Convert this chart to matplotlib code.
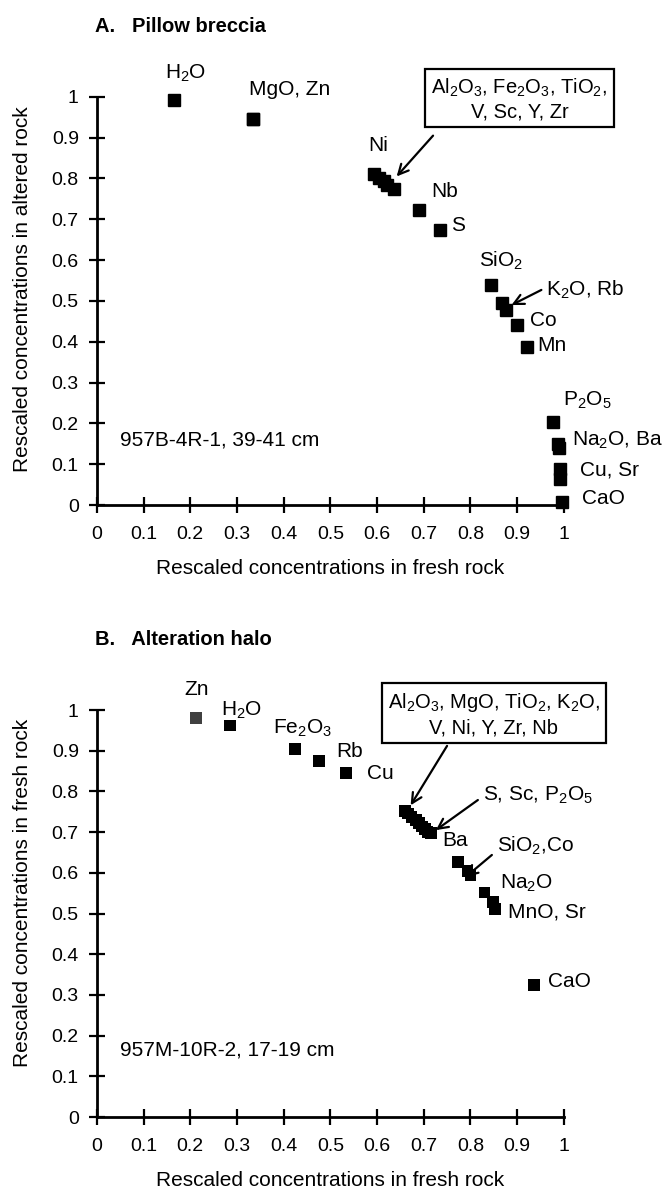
import numpy as np
import matplotlib.pyplot as plt

plt.rcParams['font.family'] = ['Liberation Sans', 'DejaVu Sans']
plt.rcParams['mathtext.default'] = 'regular'

# A. pillow breccia: fresh vs altered (rescaled)
a_names = ['H2O', 'MgO', 'Zn', 'Ni', 'Al2O3', 'Fe2O3', 'TiO2', 'V',
           'Nb', 'S', 'SiO2', 'K2O', 'Rb', 'Co', 'Mn',
           'P2O5', 'Na2O', 'Ba', 'Cu', 'Sr', 'CaO']
a_fresh = [0.165, 0.334, 0.334, 0.593, 0.605, 0.614, 0.622, 0.636,
           0.69, 0.734, 0.844, 0.867, 0.876, 0.899, 0.921,
           0.977, 0.987, 0.990, 0.991, 0.991, 0.996]
a_alter = [0.993, 0.946, 0.946, 0.811, 0.801, 0.793, 0.785, 0.775,
           0.722, 0.675, 0.539, 0.495, 0.478, 0.441, 0.387,
           0.203, 0.150, 0.140, 0.088, 0.064, 0.007]

# B. alteration halo
b_names = ['Zn', 'H2O', 'Fe2O3', 'Rb', 'Cu',
           'Al2O3', 'MgO', 'TiO2', 'K2O', 'V', 'Ni', 'S', 'Sc', 'P2O5',
           'Ba', 'SiO2', 'Co', 'Na2O', 'MnO', 'Sr', 'CaO']
b_fresh = [0.213, 0.285, 0.424, 0.475, 0.533,
           0.660, 0.666, 0.674, 0.683, 0.690, 0.697, 0.703, 0.708, 0.716,
           0.774, 0.794, 0.800, 0.830, 0.848, 0.852, 0.936]
b_alter = [0.980, 0.962, 0.904, 0.875, 0.845,
           0.752, 0.746, 0.738, 0.730, 0.722, 0.714, 0.707, 0.701, 0.697,
           0.627, 0.604, 0.594, 0.552, 0.528, 0.512, 0.325]

ticks = np.round(np.arange(0, 1.01, 0.1), 1)
tick_labels = [f'{t:g}' for t in ticks]

fig = plt.figure(figsize=(6.68, 11.9), dpi=100)
axA = fig.add_axes([0.145, 0.5756, 0.699, 0.343])
axB = fig.add_axes([0.145, 0.0613, 0.699, 0.342])


def style(ax, ylabel, ymid):
    ax.set_xlim(0, 1)
    ax.set_ylim(0, 1)
    for s in ('top', 'right'):
        ax.spines[s].set_visible(False)
    for s in ('left', 'bottom'):
        ax.spines[s].set_linewidth(2)
    ax.set_xticks(ticks)
    ax.set_xticklabels(tick_labels)
    ax.set_yticks(ticks)
    ax.set_yticklabels(tick_labels)
    ax.tick_params(direction='inout', length=12, width=1.6, labelsize=14,
                   pad=7)
    ax.tick_params(axis='x', pad=9)
    ax.set_xlabel('Rescaled concentrations in fresh rock', fontsize=15,
                  va='center')
    ax.xaxis.set_label_coords(0.5, -0.155)
    ax.set_ylabel(ylabel, fontsize=15, va='center')
    ax.yaxis.set_label_coords(-0.16, ymid)


style(axA, 'Rescaled concentrations in altered rock', 0.53)
style(axB, 'Rescaled concentrations in fresh rock', 0.55)

axA.plot(a_fresh, a_alter, 's', color='black', ms=8.5, clip_on=False,
         zorder=5)
b_col = ['#404040' if n == 'Zn' else 'black' for n in b_names]
axB.scatter(b_fresh, b_alter, marker='s', c=b_col, s=72, linewidths=0,
            clip_on=False, zorder=5)

lab = dict(fontsize=15, clip_on=False)
blab = dict(fontsize=14.5, clip_on=False)
box = dict(boxstyle='square,pad=0.3', fc='white', ec='black', lw=1.6)
arr = dict(arrowstyle='->', lw=1.6, color='black', mutation_scale=18,
           shrinkA=0, shrinkB=0)

# panel A labels
fig.text(0.142, 0.978, 'A.   Pillow breccia', fontsize=14.5, weight='bold',
         va='center')
axA.text(0.19, 1.058, r'H$_2$O', ha='center', va='center', **lab)
axA.text(0.413, 1.018, 'MgO, Zn', ha='center', va='center', **lab)
axA.text(0.905, 0.995, 'Al$_2$O$_3$, Fe$_2$O$_3$, TiO$_2$,\nV, Sc, Y, Zr',
         ha='center', va='center', bbox=box, linespacing=1.25, **blab)
axA.annotate('', xy=(0.642, 0.805), xytext=(0.72, 0.905),
             arrowprops=arr, annotation_clip=False)
axA.text(0.602, 0.88, 'Ni', ha='center', va='center', **lab)
axA.text(0.717, 0.767, 'Nb', ha='left', va='center', **lab)
axA.text(0.758, 0.684, 'S', ha='left', va='center', **lab)
axA.text(0.865, 0.598, r'SiO$_2$', ha='center', va='center', **lab)
axA.text(0.962, 0.527, r'K$_2$O, Rb', ha='left', va='center', **lab)
axA.annotate('', xy=(0.888, 0.49), xytext=(0.952, 0.527),
             arrowprops=arr, annotation_clip=False)
axA.text(0.927, 0.453, 'Co', ha='left', va='center', **lab)
axA.text(0.944, 0.392, 'Mn', ha='left', va='center', **lab)
axA.text(0.998, 0.257, r'P$_2$O$_5$', ha='left', va='center', **lab)
axA.text(1.017, 0.159, r'Na$_2$O, Ba', ha='left', va='center', **lab)
axA.text(1.034, 0.086, 'Cu, Sr', ha='left', va='center', **lab)
axA.text(1.04, 0.017, 'CaO', ha='left', va='center', **lab)
axA.text(0.05, 0.16, '957B-4R-1, 39-41 cm', ha='left', va='center',
         fontsize=15)

# panel B labels
fig.text(0.142, 0.463, 'B.   Alteration halo', fontsize=14.5, weight='bold',
         va='center')
axB.text(0.213, 1.05, 'Zn', ha='center', va='center', **lab)
axB.text(0.31, 1.0, r'H$_2$O', ha='center', va='center', **lab)
axB.text(0.44, 0.955, r'Fe$_2$O$_3$', ha='center', va='center', **lab)
axB.text(0.512, 0.897, 'Rb', ha='left', va='center', **lab)
axB.text(0.578, 0.845, 'Cu', ha='left', va='center', **lab)
axB.text(0.85, 0.99, 'Al$_2$O$_3$, MgO, TiO$_2$, K$_2$O,\nV, Ni, Y, Zr, Nb',
         ha='center', va='center', bbox=box, linespacing=1.25, **blab)
axB.annotate('', xy=(0.672, 0.766), xytext=(0.75, 0.912),
             arrowprops=arr, annotation_clip=False)
axB.text(0.826, 0.79, r'S, Sc, P$_2$O$_5$', ha='left', va='center', **lab)
axB.annotate('', xy=(0.726, 0.705), xytext=(0.816, 0.779),
             arrowprops=arr, annotation_clip=False)
axB.text(0.767, 0.68, 'Ba', ha='center', va='center', **lab)
axB.text(0.856, 0.666, r'SiO$_2$,Co', ha='left', va='center', **lab)
axB.annotate('', xy=(0.79, 0.59), xytext=(0.846, 0.644),
             arrowprops=arr, annotation_clip=False)
axB.text(0.863, 0.575, r'Na$_2$O', ha='left', va='center', **lab)
axB.text(0.88, 0.504, 'MnO, Sr', ha='left', va='center', **lab)
axB.text(0.966, 0.334, 'CaO', ha='left', va='center', **lab)
axB.text(0.05, 0.165, '957M-10R-2, 17-19 cm', ha='left', va='center',
         fontsize=15)

fig.savefig('out.png', dpi=100)
